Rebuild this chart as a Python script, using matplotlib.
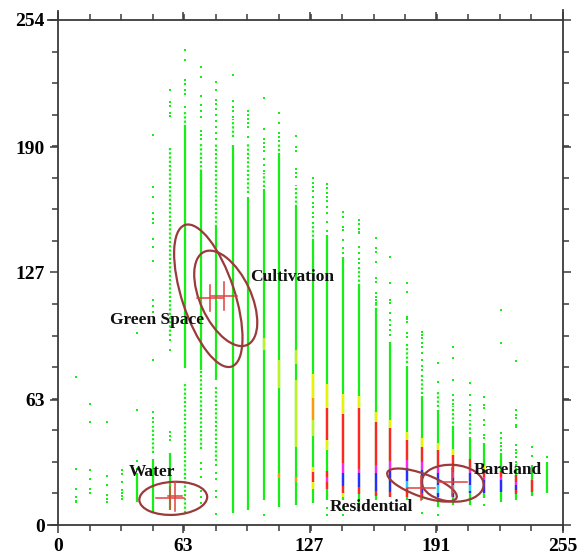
import numpy as np
import matplotlib
matplotlib.use("Agg")
import matplotlib.pyplot as plt
from matplotlib.patches import Ellipse
from matplotlib.lines import Line2D

# column positions (band-1 grey level bins)
col_x = [9.1, 16.3, 24.7, 32.2, 40.0, 48.1, 56.7, 64.0, 72.4, 79.9, 88.2,
         95.8, 104.2, 111.7, 120.0, 128.6, 136.0, 143.8, 151.8, 160.4, 167.6,
         176.1, 183.8, 191.9, 199.5, 208.0, 215.3, 223.5, 231.4, 239.5, 247.1]

# continuous part of each column (None = only scattered points)
solid_lo = [None, None, None, None, 11.7, 6, 7.5, 79, 78, 73, 6,
            7.5, 12.6, 9, 10, 11, 12.6, 12.6, 10, 12.6, 14,
            12.6, 12.6, 9, 10, 10, 13.6, 11.7, 12.6, 14.6, 16]
solid_hi = [None, None, None, None, 26, 33, 36, 200, 178, 150, 191,
            165, 169, 187, 160, 143, 146, 135, 120, 108, 92,
            80, 65, 58, 49, 44.4, 41, 36, 28.5, 30, 31.8]

# semi dense (dotted) runs: (column, lo, hi)
dotted_runs = [(6, 36, 50), (7, 95, 190), (8, 6, 72), (8, 200, 208),
               (9, 165, 192), (9, 38, 78), (10, 150, 192), (10, 32, 70),
               (11, 195, 204), (12, 167, 192), (13, 170, 177), (14, 188, 192),
               (15, 160, 171), (16, 143, 153), (19, 120, 130), (20, 108, 112),
               (22, 81.5, 91.5), (23, 66, 76), (24, 59.5, 68), (25, 49, 60),
               (26, 46, 53)]

# isolated points per column
dots = [
    [74.5, 28.3, 18, 14.2, 12.2, 11.4],
    [60.9, 52, 27.5, 23, 18, 16],
    [52, 24.8, 20, 15, 13, 11.5],
    [27.7, 25.7, 21.8, 17.6, 16, 14.5, 13],
    [96.7, 58, 32, 28.3],
    [196, 170, 165, 157, 154, 152, 144, 140, 133, 113, 110, 107, 83, 57, 54, 52],
    [219, 213, 210.5, 207, 205.5, 93, 88, 47, 45, 43],
    [239, 234, 224, 222, 219, 217, 210],
    [230.5, 225.5, 216, 211, 208, 205, 198, 196, 194, 31, 28, 24, 17, 14, 11],
    [223, 219, 214, 212, 209, 206, 203, 200, 197, 194, 30, 26, 23, 17, 14, 5.5],
    [226.5, 213.3, 210, 208, 205],
    [208, 206, 204, 202, 200, 195],
    [215, 199, 194, 192, 190, 188, 184, 181, 178, 5],
    [207, 202, 197, 195, 193],
    [195.5, 190, 188, 179, 177, 175],
    [174.5, 172, 170, 168, 165, 162, 160, 157, 155],
    [171.4, 169.5, 167, 165, 163, 160, 157, 152.6, 148, 8.5, 5],
    [157.5, 155, 150, 148.4, 143.4, 139.3, 137, 8.5, 5],
    [153.4, 151.5, 149, 147.5, 147, 140, 136.8, 134, 132, 7],
    [144.5, 139.3, 137.5, 132.4, 124, 122, 116.7, 114.7, 113, 111.6],
    [135, 121.6, 113, 111.6, 106.6, 103, 100.6, 98, 95.5],
    [121.6, 117.4, 104.8, 103.5, 102.3, 96.6, 94.6],
    [97.2, 95.6, 94, 91.5, 89.6, 86.5, 83, 80, 78, 6],
    [81.3, 72, 5],
    [89.7, 84.2, 73, 65.4, 63, 61],
    [71.3, 65.4, 60.4, 58, 55.3],
    [64.5, 60.4, 58.8, 52.8, 50.3, 45.3, 43.8, 10],
    [108, 91.7, 46.3, 43.8, 41.2, 39.5, 37.7],
    [82.5, 57.8, 55.3, 53.8, 50.3, 49.3, 40.2, 37.7, 36, 34.2, 31.8, 30.2],
    [39.4, 34.9],
    [34.4],
]

# point density bands: (column, lo, hi, level)
bands = [
    (13, 88, 94, 'yg'),
    (14, 69, 83, 'yg'), (14, 23.6, 26, 'o'),
    (15, 81, 88, 'yg'), (15, 39, 73, 'yg'), (15, 21.6, 24, 'o'),
    (16, 64, 76, 'y'), (16, 53, 64, 'o'), (16, 45, 53, 'yg'), (16, 26.6, 29, 'y'), (16, 21.6, 26.6, 'r'), (16, 18, 21.6, 'y'),
    (17, 59, 71, 'y'), (17, 42.8, 59, 'r'), (17, 37.7, 42.8, 'y'), (17, 24, 27, 'r'), (17, 21.6, 24, 'm'), (17, 18, 21.6, 'r'),
    (18, 56, 66, 'y'), (18, 31, 56, 'r'), (18, 26, 31, 'm'), (18, 19.5, 26, 'b'), (18, 16, 19.5, 'r'), (18, 14, 16, 'y'),
    (19, 59, 65, 'y'), (19, 28, 59, 'r'), (19, 26, 28, 'm'), (19, 19, 26, 'b'), (19, 15.5, 19, 'r'),
    (20, 52, 57, 'y'), (20, 30, 52, 'r'), (20, 26, 30, 'm'), (20, 17, 26, 'b'), (20, 14.5, 17, 'r'),
    (21, 49, 53, 'y'), (21, 32, 49, 'r'), (21, 27, 32, 'm'), (21, 16.5, 27, 'b'), (21, 14, 16.5, 'r'),
    (22, 43, 47, 'y'), (22, 32.7, 43, 'r'), (22, 28.7, 32.7, 'm'), (22, 22, 28.7, 'b'), (22, 18.6, 22, 'c'), (22, 14, 18.6, 'r'),
    (23, 39, 44, 'y'), (23, 31.7, 39, 'r'), (23, 27.7, 31.7, 'm'), (23, 16, 27.7, 'b'), (23, 13.5, 16, 'r'),
    (24, 37.7, 41, 'y'), (24, 29, 37.7, 'r'), (24, 26, 29, 'm'), (24, 20, 26, 'b'), (24, 16, 20, 'c'), (24, 14, 16, 'b'),
    (25, 35, 38, 'y'), (25, 26.6, 35, 'r'), (25, 23.6, 26.6, 'm'), (25, 20, 23.6, 'b'), (25, 16, 20, 'c'), (25, 14, 16, 'b'),
    (26, 29, 33, 'r'), (26, 26, 29, 'm'), (26, 20, 26, 'b'), (26, 17, 20, 'c'), (26, 16, 17, 'b'),
    (27, 27.7, 30, 'y'), (27, 24, 27.7, 'r'), (27, 22.6, 24, 'm'), (27, 16, 22.6, 'b'),
    (28, 24, 27, 'r'), (28, 22.6, 24, 'm'), (28, 16.6, 22.6, 'b'),
    (29, 21.6, 25, 'r'), (29, 20, 21.6, 'm'), (29, 17.6, 20, 'b'), (29, 15.5, 17.6, 'r'),
    (30, 16.6, 22.6, 'r'),
]
level_colors = {'yg': '#bcf226', 'y': '#eef200', 'o': '#ff9a10', 'r': '#ff2626',
                'm': '#ff26f4', 'b': '#2c2cff', 'c': '#26c8ff'}

# class ellipses: name, centre, width, height, angle
cls_names = ['Water', 'Green Space', 'Cultivation', 'Residential', 'Bareland']
ell_cx = [58.2, 75.9, 84.7, 183.8, 199.3]
ell_cy = [13.4, 115.3, 114.0, 20.1, 21.0]
ell_w = [34.3, 75.0, 51.6, 37.2, 31.3]
ell_h = [16.6, 26.6, 25.6, 11.4, 18.5]
ell_ang = [3, 108.3, 115, -20, -4]

# class means (crosses): x, y, half width, half height
mean_x = [56.6, 59.1, 76.8, 83.8, 183.3, 199.2]
mean_y = [13.7, 14.5, 114.2, 115.2, 18.6, 21.5]
mean_hw = [7.2, 3.5, 6.6, 6.6, 7.1, 7.4]
mean_hh = [5.5, 7.3, 6.5, 7.2, 6.0, 7.0]

# label positions
lab_x = [35.9, 26.3, 97.0, 137.4, 210.0]
lab_y = [26.7, 103.0, 124.7, 9.1, 27.7]

x_ticks = [0, 63, 127, 191, 255]
y_ticks = [0, 63, 127, 190, 254]

green = '#14f014'
serif = ['Liberation Serif', 'DejaVu Serif']

fig = plt.figure(figsize=(5.77, 5.58), dpi=100)
ax = fig.add_axes([58 / 577, 33 / 558, 505 / 577, 505 / 558])
ax.set_xlim(0, 255)
ax.set_ylim(0, 254)

for i, x in enumerate(col_x):
    if solid_lo[i] is not None:
        ax.plot([x, x], [solid_lo[i], solid_hi[i]], color=green, lw=1.6,
                solid_capstyle='butt', zorder=2)
    ax.plot([x] * len(dots[i]), dots[i], 's', color=green, ms=1.5,
            mew=0, zorder=2)

for c, lo, hi in dotted_runs:
    x = col_x[c - 1]
    ax.plot([x, x], [lo, hi], color=green, lw=1.6, ls=(0, (1.0, 0.9)), zorder=2)

for c, lo, hi, lev in bands:
    x = col_x[c - 1]
    ax.plot([x, x], [lo, hi], color=level_colors[lev], lw=1.7,
            solid_capstyle='butt', zorder=3)

for i in range(len(cls_names)):
    ax.add_patch(Ellipse((ell_cx[i], ell_cy[i]), ell_w[i], ell_h[i],
                         angle=ell_ang[i], fill=False, ec='#9b3a3a', lw=1.6, zorder=5))
for i in range(len(mean_x)):
    ax.plot([mean_x[i] - mean_hw[i], mean_x[i] + mean_hw[i]], [mean_y[i]] * 2,
            color='#e04040', lw=1.1, zorder=6)
    ax.plot([mean_x[i]] * 2, [mean_y[i] - mean_hh[i], mean_y[i] + mean_hh[i]],
            color='#e04040', lw=1.1, zorder=6)

for i, name in enumerate(cls_names):
    ax.text(lab_x[i], lab_y[i], name, family=serif, fontweight='bold',
            fontsize=12.5, color='#111111', va='center', ha='left', zorder=7)

# frame with small overshoot like the original plot
for sp in ax.spines.values():
    sp.set_visible(False)
fc = '#3a3a3a'
ax.add_line(Line2D([-0.02, 1.0], [1, 1], transform=ax.transAxes, color=fc, lw=1.3, clip_on=False))
ax.add_line(Line2D([-0.02, 1.0], [0, 0], transform=ax.transAxes, color=fc, lw=1.3, clip_on=False))
ax.add_line(Line2D([0, 0], [0, 1.018], transform=ax.transAxes, color=fc, lw=1.3, clip_on=False))
ax.add_line(Line2D([1, 1], [-0.01, 1.02], transform=ax.transAxes, color=fc, lw=1.3, clip_on=False))

ax.set_xticks(x_ticks)
ax.set_yticks(y_ticks)
ax.set_xticks(np.linspace(0, 255, 17), minor=True)
ax.set_yticks(np.linspace(0, 254, 17), minor=True)
ax.tick_params(which='both', direction='out', top=True, right=True,
               labeltop=False, labelright=False, color=fc, width=1.1)
ax.tick_params(which='major', length=5.5, pad=4)
ax.tick_params(which='minor', length=4)
for lab in ax.get_xticklabels() + ax.get_yticklabels():
    lab.set_family(serif)
    lab.set_fontweight('bold')
    lab.set_fontsize(14)

fig.savefig('out.png', dpi=100)
